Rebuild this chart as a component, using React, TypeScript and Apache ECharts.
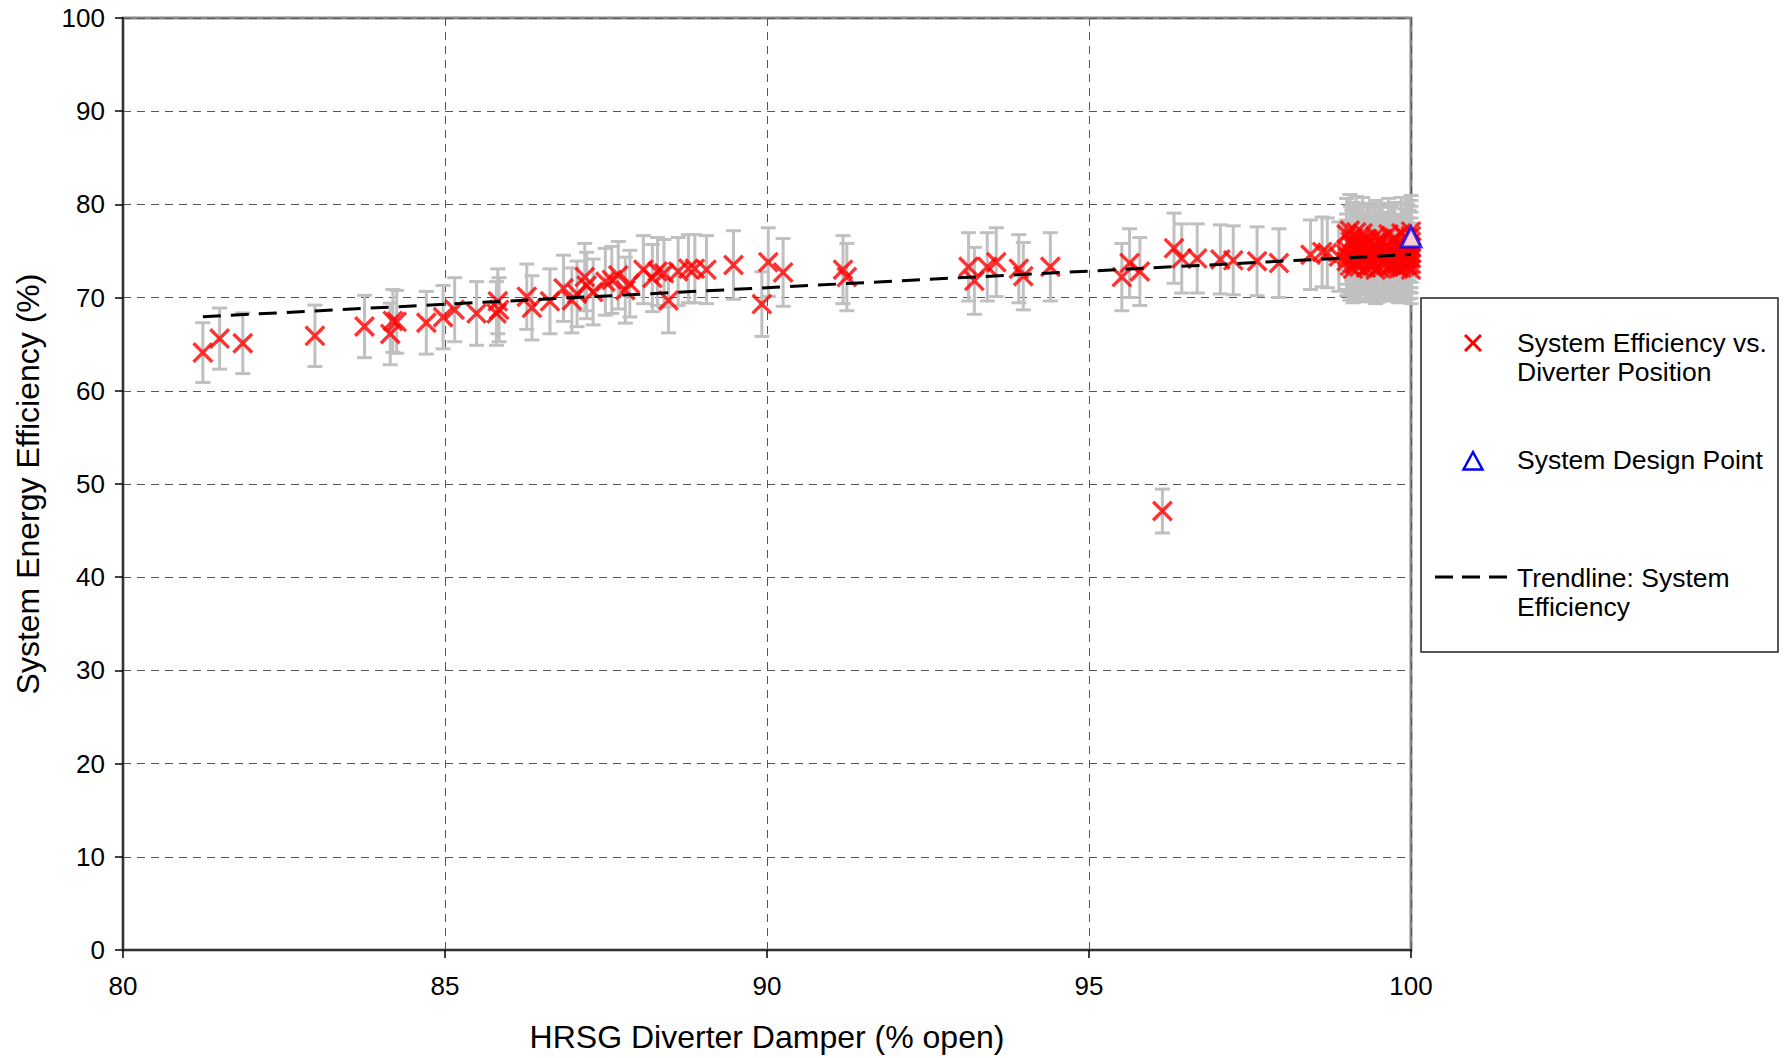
import React, { useEffect, useRef } from "react";
import * as echarts from "echarts";

// HRSG diverter damper position (% open)
const damperOpen: number[] = [
  81.24, 81.5, 81.86, 82.98, 83.75, 84.15, 84.19, 84.25, 84.71, 84.97,
  85.15, 85.49, 85.82, 85.84, 85.8, 86.27, 86.35, 86.63, 86.84, 86.97,
  87.05, 87.17, 87.2, 87.3, 87.49, 87.59, 87.69, 87.8, 87.87, 88.08,
  88.22, 88.3, 88.4, 88.47, 88.62, 88.78, 88.88, 89.06, 89.48, 89.92,
  90.02, 90.25, 91.18, 91.24, 93.13, 93.22, 93.42, 93.56, 93.91, 93.98,
  94.4, 95.51, 95.63, 95.79, 96.14, 96.32, 96.44, 96.68, 97.04, 97.24,
  97.61, 97.95, 98.44, 98.62, 98.7, 98.88,
  99.0, 99.0, 99.0, 99.0, 99.05, 99.05, 99.1, 99.1, 99.1, 99.1,
  99.15, 99.15, 99.2, 99.2, 99.2, 99.25, 99.25, 99.3, 99.3, 99.35,
  99.35, 99.35, 99.4, 99.4, 99.45, 99.45, 99.5, 99.5, 99.5, 99.55,
  99.55, 99.6, 99.6, 99.65, 99.65, 99.7, 99.7, 99.7, 99.75, 99.75,
  99.8, 99.8, 99.8, 99.85, 99.85, 99.9, 99.9, 99.9, 99.95, 99.95,
  99.95, 100, 100, 100, 100, 100, 100, 100, 100,
  99.02, 99.08, 99.12, 99.18, 99.22, 99.28, 99.32, 99.38, 99.42, 99.48,
  99.52, 99.58, 99.62, 99.68, 99.72, 99.78, 99.82, 99.88, 99.92, 99.98,
  99.06, 99.27, 99.44, 99.63, 99.84, 99.97, 99.16, 99.57, 99.76, 99.93,
];

// System energy efficiency (%)
const efficiency: number[] = [
  64.1, 65.6, 65.1, 65.9, 66.9, 66.1, 67.5, 67.4, 67.3, 67.9,
  68.7, 68.3, 69.6, 68.7, 68.3, 70.1, 68.9, 69.6, 71.0, 69.7,
  70.4, 72.2, 71.3, 70.6, 71.7, 71.9, 72.4, 70.8, 71.5, 73.0,
  72.1, 72.8, 72.6, 69.7, 72.8, 73.1, 73.1, 73.0, 73.5, 69.3,
  73.8, 72.7, 73.0, 72.2, 73.3, 71.8, 73.3, 73.8, 73.1, 72.3,
  73.3, 72.2, 73.7, 72.8, 47.1, 75.3, 74.2, 74.2, 74.1, 74.0,
  73.9, 73.7, 74.6, 74.9, 74.8, 74.4,
  76.8, 75.2, 73.9, 74.6, 77.2, 73.4, 75.8, 76.4, 73.1, 74.2,
  77.0, 73.6, 75.1, 76.2, 73.3, 74.0, 76.9, 73.2, 75.5, 76.0,
  73.5, 74.4, 75.0, 73.4, 76.6, 73.0, 74.7, 75.9, 73.2, 73.6,
  76.3, 74.1, 75.4, 73.3, 76.8, 73.5, 74.9, 75.9, 73.7, 76.4,
  74.5, 73.1, 75.2, 76.9, 73.2, 74.0, 75.7, 73.4, 73.5, 76.2,
  74.8, 73.0, 73.6, 74.2, 74.8, 75.4, 76.0, 76.6, 77.1,
  74.3, 75.6, 73.7, 74.8, 75.9, 74.5, 76.3, 73.8, 74.6, 75.3,
  76.0, 73.9, 74.5, 75.1, 76.2, 74.7, 73.9, 75.0, 76.4, 74.3,
  76.0, 74.8, 75.8, 73.8, 74.6, 75.6, 74.1, 75.0, 73.4, 74.2,
];

// System design point
const designPoint: number[] = [100, 76.5];

// Trendline end points (linear fit as drawn)
const trendX: number[] = [81.24, 100];
const trendY: number[] = [67.95, 74.62];

// Excel-style percentage error bars
const ERROR_PERCENT = 5;

const xTicks = { min: 80, max: 100, interval: 5 };
const yTicks = { min: 0, max: 100, interval: 10 };

const FONT = "'Liberation Sans', Arial, sans-serif";
const X_PATH =
  "M0,2.3 L2.3,0 L10,7.7 L17.7,0 L20,2.3 L12.3,10 L20,17.7 L17.7,20 L10,12.3 L2.3,20 L0,17.7 L7.7,10 Z";
const X_POLY: number[][] = [
  [0, 2.3], [2.3, 0], [10, 7.7], [17.7, 0], [20, 2.3], [12.3, 10], [20, 17.7], [17.7, 20],
  [10, 12.3], [2.3, 20], [0, 17.7], [7.7, 10],
];

export default function App() {
  const ref = useRef<HTMLDivElement>(null);

  useEffect(() => {
    if (!ref.current) return;
    const chart = echarts.init(ref.current, undefined, { renderer: "svg" });
    const points = damperOpen.map((x, i) => [x, efficiency[i]]);
    const err = ERROR_PERCENT / 100;

    const lx = 1473;
    const ly = 343;
    const ls = 0.9;

    chart.setOption({
      animation: false,
      backgroundColor: "#ffffff",
      textStyle: { fontFamily: FONT },
      grid: {
        left: 123,
        top: 18,
        width: 1288,
        height: 932,
        show: true,
        borderColor: "#888888",
        borderWidth: 3,
        backgroundColor: "transparent",
        containLabel: false,
      },
      xAxis: {
        type: "value",
        min: xTicks.min,
        max: xTicks.max,
        interval: xTicks.interval,
        name: "HRSG Diverter Damper (% open)",
        nameLocation: "middle",
        nameGap: 71,
        nameTextStyle: { fontSize: 32, color: "#000", fontFamily: FONT },
        axisLine: { show: true, onZero: false, lineStyle: { color: "#333", width: 2 } },
        axisTick: { show: true, length: 8, lineStyle: { color: "#000", width: 1.5 } },
        axisLabel: { fontSize: 26, color: "#000", margin: 23, fontFamily: FONT },
        splitLine: { show: true, lineStyle: { color: "#555", type: [8, 6], width: 1 } },
      },
      yAxis: {
        type: "value",
        min: yTicks.min,
        max: yTicks.max,
        interval: yTicks.interval,
        name: "System Energy Efficiency (%)",
        nameLocation: "middle",
        nameGap: 79,
        nameTextStyle: { fontSize: 32, color: "#000", fontFamily: FONT },
        axisLine: { show: true, onZero: false, lineStyle: { color: "#333", width: 2 } },
        axisTick: { show: true, length: 8, lineStyle: { color: "#000", width: 1.5 } },
        axisLabel: { fontSize: 26, color: "#000", margin: 18, fontFamily: FONT },
        splitLine: { show: true, lineStyle: { color: "#555", type: [8, 6], width: 1 } },
      },
      series: [
        {
          name: "Error bars",
          type: "custom",
          z: 2,
          clip: false,
          data: points,
          renderItem: (_params: any, api: any) => {
            const x = api.value(0);
            const y = api.value(1);
            const hi = api.coord([x, y * (1 + err)]);
            const lo = api.coord([x, y * (1 - err)]);
            const hw = 7.5;
            const style = { stroke: "#c0c0c0", lineWidth: 3 };
            return {
              type: "group",
              children: [
                { type: "line", shape: { x1: hi[0], y1: hi[1], x2: lo[0], y2: lo[1] }, style },
                { type: "line", shape: { x1: hi[0] - hw, y1: hi[1], x2: hi[0] + hw, y2: hi[1] }, style },
                { type: "line", shape: { x1: lo[0] - hw, y1: lo[1], x2: lo[0] + hw, y2: lo[1] }, style },
              ],
            };
          },
        },
        {
          name: "System Efficiency vs. Diverter Position",
          type: "scatter",
          z: 3,
          data: points,
          symbol: "path://" + X_PATH,
          symbolSize: 21,
          itemStyle: { color: "#ff0000" },
        },
        {
          name: "Trendline: System Efficiency",
          type: "line",
          z: 4,
          data: trendX.map((x, i) => [x, trendY[i]]),
          showSymbol: false,
          symbol: "none",
          lineStyle: { color: "#000", width: 3, type: [18, 10] },
        },
        {
          name: "System Design Point",
          type: "scatter",
          z: 5,
          data: [designPoint],
          symbol: "triangle",
          symbolSize: 20,
          itemStyle: { color: "#ffffff", borderColor: "#0000ff", borderWidth: 3 },
        },
      ],
      graphic: [
        {
          type: "rect",
          shape: { x: 1421, y: 298, width: 357, height: 354 },
          style: { fill: "#ffffff", stroke: "#222", lineWidth: 1.5 },
          z: 10,
        },
        {
          type: "polygon",
          shape: { points: X_POLY.map(([px, py]) => [lx + (px - 10) * ls, ly + (py - 10) * ls]) },
          style: { fill: "#ff0000" },
          z: 11,
        },
        {
          type: "text",
          x: 1517,
          y: 343 - 14.5,
          style: {
            text: "System Efficiency vs.\nDiverter Position",
            fontSize: 26.5,
            fontFamily: FONT,
            fill: "#000",
            lineHeight: 29,
            verticalAlign: "top",
          },
          z: 11,
        },
        {
          type: "polygon",
          shape: { points: [[1473, 452], [1482.5, 469.5], [1463.5, 469.5]] },
          style: { fill: "#ffffff", stroke: "#0000ff", lineWidth: 2.5 },
          z: 11,
        },
        {
          type: "text",
          x: 1517,
          y: 460,
          style: {
            text: "System Design Point",
            fontSize: 26.5,
            fontFamily: FONT,
            fill: "#000",
            verticalAlign: "middle",
          },
          z: 11,
        },
        {
          type: "line",
          shape: { x1: 1435, y1: 577, x2: 1508, y2: 577 },
          style: { stroke: "#000", lineWidth: 3, lineDash: [18, 9] },
          z: 11,
        },
        {
          type: "text",
          x: 1517,
          y: 578 - 14.5,
          style: {
            text: "Trendline: System\nEfficiency",
            fontSize: 26.5,
            fontFamily: FONT,
            fill: "#000",
            lineHeight: 29,
            verticalAlign: "top",
          },
          z: 11,
        },
      ],
    });

    return () => chart.dispose();
  }, []);

  return (
    <div
      ref={ref}
      style={{ position: "fixed", left: 0, top: 0, width: 1788, height: 1058, background: "#fff" }}
    />
  );
}
